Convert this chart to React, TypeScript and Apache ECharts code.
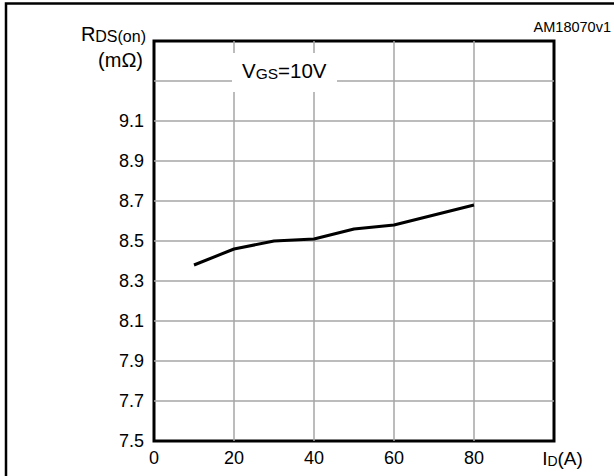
import React, { useEffect, useRef } from "react";
import * as echarts from "echarts";

const FONT = "'Liberation Sans', Arial, Helvetica, sans-serif";

// Drain current I_D (A)
const currentA = [10, 20, 30, 40, 50, 60, 80];
// R_DS(on) (mΩ)
const rdsOn = [8.38, 8.46, 8.5, 8.51, 8.56, 8.58, 8.68];
// Tick labels
const yLabels = [7.5, 7.7, 7.9, 8.1, 8.3, 8.5, 8.7, 8.9, 9.1];
const yGridLines = [7.7, 7.9, 8.1, 8.3, 8.5, 8.7, 8.9, 9.1, 9.3];
const xLabels = [0, 20, 40, 60, 80];
const X_MIN = 0;
const X_MAX = 100;
const Y_MIN = 7.5;
const Y_MAX = 9.5;

const GRID_COLOR = "#a6a6a6";

export default function App() {
  const ref = useRef<HTMLDivElement>(null);

  useEffect(() => {
    if (!ref.current) return;
    const chart = echarts.init(ref.current, null, { renderer: "svg" });

    const txt = (size: number) => ({
      fontSize: size,
      fontFamily: FONT,
      color: "#000",
      verticalAlign: "bottom",
    });

    const option: any = {
      animation: false,
      backgroundColor: "#fff",
      grid: {
        left: 154,
        top: 41,
        right: 60,
        bottom: 35,
        show: true,
        borderColor: "#000",
        borderWidth: 3,
        backgroundColor: "transparent",
      },
      xAxis: {
        type: "value",
        min: X_MIN,
        max: X_MAX,
        interval: 20,
        axisLine: { show: false },
        axisTick: { show: false },
        splitLine: {
          show: true,
          showMinLine: false,
          showMaxLine: false,
          lineStyle: { color: GRID_COLOR, width: 1.5 },
        },
        axisLabel: {
          margin: 8,
          fontSize: 18,
          fontFamily: FONT,
          color: "#000",
          formatter: (v: number) => {
            if (xLabels.indexOf(v) >= 0) return "{n|" + v + "}";
            if (v === X_MAX) return "{sp|}{u|I}{d|D}{u|(A)}";
            return "";
          },
          rich: {
            n: txt(18),
            sp: { width: 17 },
            u: txt(19),
            d: txt(14),
          },
        },
      },
      yAxis: {
        type: "value",
        min: Y_MIN,
        max: Y_MAX,
        interval: 0.1,
        axisLine: { show: false },
        axisTick: { show: false },
        splitLine: { show: false },
        axisLabel: {
          margin: 10,
          fontSize: 18,
          fontFamily: FONT,
          color: "#000",
          formatter: (v: number) =>
            yLabels.some((l) => Math.abs(l - v) < 1e-6) ? v.toFixed(1) : "",
        },
      },
      series: [
        {
          type: "line",
          data: [],
          z: 1,
          silent: true,
          markLine: {
            silent: true,
            symbol: "none",
            label: { show: false },
            lineStyle: { color: GRID_COLOR, width: 1.5, type: "solid" },
            data: yGridLines.map((y) => ({ yAxis: y })),
          },
        },
        {
          type: "line",
          z: 5,
          data: currentA.map((x, i) => [x, rdsOn[i]]),
          symbol: "none",
          lineStyle: { color: "#000", width: 3 },
        },
      ],
      graphic: [
        {
          type: "polyline",
          z: 100,
          silent: true,
          shape: { points: [[6, 476], [6, 3.5], [614, 3.5]] },
          style: { stroke: "#000", lineWidth: 2.5, fill: "none" },
        },
        {
          type: "text",
          z: 100,
          x: 611,
          y: 27,
          style: {
            text: "AM18070v1",
            fontSize: 14.5,
            fontFamily: FONT,
            fill: "#000",
            textAlign: "right",
            textVerticalAlign: "middle",
          },
        },
        {
          type: "text",
          z: 100,
          x: 146,
          y: 44,
          style: {
            text: "{r|R}{s|DS(on)}",
            rich: { r: txt(20), s: txt(16) },
            textAlign: "right",
            textVerticalAlign: "bottom",
          },
        },
        {
          type: "text",
          z: 100,
          x: 143,
          y: 60,
          style: {
            text: "(mΩ)",
            fontSize: 20,
            fontFamily: FONT,
            fill: "#000",
            textAlign: "right",
            textVerticalAlign: "middle",
          },
        },
        {
          type: "rect",
          z: 100,
          silent: true,
          shape: { x: 232, y: 53, width: 105, height: 39 },
          style: { fill: "#fff" },
        },
        {
          type: "text",
          z: 101,
          x: 242,
          y: 81,
          style: {
            text: "{r|V}{s|GS}{r|=10V}",
            rich: { r: txt(20.5), s: txt(15.5) },
            textAlign: "left",
            textVerticalAlign: "bottom",
          },
        },
      ],
    };

    chart.setOption(option);
    return () => chart.dispose();
  }, []);

  return (
    <div
      ref={ref}
      style={{ position: "absolute", left: 0, top: 0, width: 614, height: 476 }}
    />
  );
}
